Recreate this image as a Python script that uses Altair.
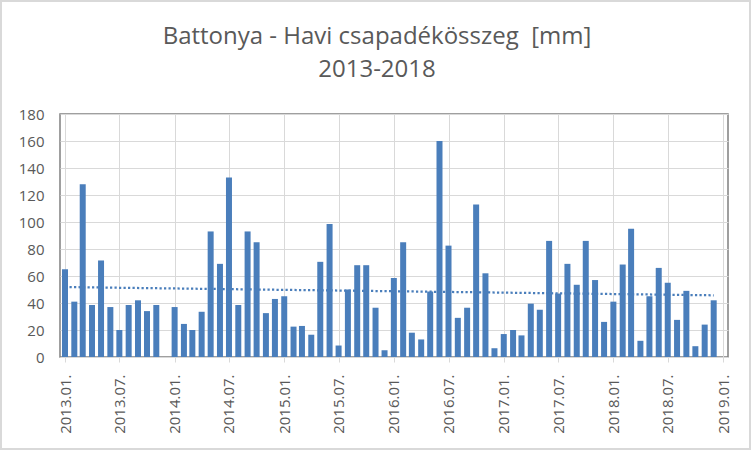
import altair as alt
import pandas as pd

years = [2013, 2014, 2015, 2016, 2017, 2018]
p2013 = [65, 41, 128, 38.5, 71.5, 37, 20, 38.5, 42, 34, 38.5, None]
p2014 = [37, 24.5, 20, 33.5, 93, 69, 133, 38.5, 93, 85, 32.5, 43]
p2015 = [45, 22.5, 23, 16.5, 70.5, 98.5, 8.5, 50, 68, 68, 36.5, 5]
p2016 = [58.5, 85, 18, 13, 48.5, 160, 82.5, 29, 36.5, 113, 62, 6.5]
p2017 = [17, 20, 16, 39.5, 35, 86, 47, 69, 53.5, 86, 57, 26]
p2018 = [41, 68.5, 95, 12, 45, 66, 55, 27.5, 49, 8, 24, 42]
# linear trendline end points
trend_dates = ["2013-01-01T00:00:00", "2018-12-01T00:00:00"]
trend_values = [51.8, 45.7]
y_ticks = [0, 20, 40, 60, 80, 100, 120, 140, 160, 180]
x_tick_months = [(2013, 1), (2013, 7), (2014, 1), (2014, 7), (2015, 1), (2015, 7),
                 (2016, 1), (2016, 7), (2017, 1), (2017, 7), (2018, 1), (2018, 7),
                 (2019, 1)]

dates = [f"{y}-{m:02d}-01T00:00:00" for y in years for m in range(1, 13)]
values = p2013 + p2014 + p2015 + p2016 + p2017 + p2018
df = pd.DataFrame({"date": dates, "mm": values})
trend_df = pd.DataFrame({"date": trend_dates, "mm": trend_values})
frame_df = pd.DataFrame({"k": [0]})

x_vals = [alt.DateTime(year=y, month=m, date=1) for y, m in x_tick_months]
x_scale = alt.Scale(domain=[alt.DateTime(year=2013, month=1, date=1),
                            alt.DateTime(year=2019, month=1, date=1)])
y_scale = alt.Scale(domain=[0, 180], nice=False)

x_axis = alt.Axis(values=x_vals, format="%Y.%m.", labelAngle=270, labelAlign="right",
                  labelBaseline="middle", labelPadding=12, tickSize=5,
                  domainColor="#d9d9d9", tickColor="#d9d9d9", grid=True,
                  labelOverlap=False)
y_axis = alt.Axis(values=y_ticks, domain=False, ticks=False, labelPadding=16, grid=True,
                  labelOverlap=False)

bars = alt.Chart(df).mark_bar(size=6, color="#4a7ebb", clip=True).encode(
    x=alt.X("date:T", scale=x_scale, axis=x_axis, title=None),
    y=alt.Y("mm:Q", scale=y_scale, axis=y_axis, title=None),
)

trend = alt.Chart(trend_df).mark_line(
    color="#4a7ebb", strokeWidth=2.25, strokeDash=[2.25, 2.25]
).encode(
    x=alt.X("date:T", scale=x_scale, axis=x_axis, title=None),
    y=alt.Y("mm:Q", scale=y_scale, axis=y_axis, title=None),
)

# light grey outer chart frame (decoration)
frame = alt.Chart(frame_df).mark_rect(
    fill=None, stroke="#d9d9d9", strokeWidth=2
).encode(
    x=alt.value(-59), x2=alt.value(690), y=alt.value(-113), y2=alt.value(335)
)

chart = alt.layer(bars, trend, frame).properties(
    width=668,
    height=243,
    autosize=alt.AutoSizeParams(type="none"),
    padding={"left": 60, "top": 114, "right": 24, "bottom": 94},
    title=alt.TitleParams(
        ["Battonya - Havi csapadékösszeg\u00a0 [mm]", "2013-2018"],
        font="Open Sans", fontSize=24, fontWeight="normal", color="#595959",
        anchor="middle", dx=-17, offset=-82, lineHeight=33,
    ),
).configure(
    font="Open Sans",
    background="white",
).configure_view(
    stroke="#808080", strokeWidth=1.5,
).configure_axis(
    gridColor="#d9d9d9", gridWidth=1, labelColor="#595959", labelFontSize=15,
    labelFont="Open Sans",
)

chart.save("out.html", embed_options={"renderer": "svg", "actions": False})
